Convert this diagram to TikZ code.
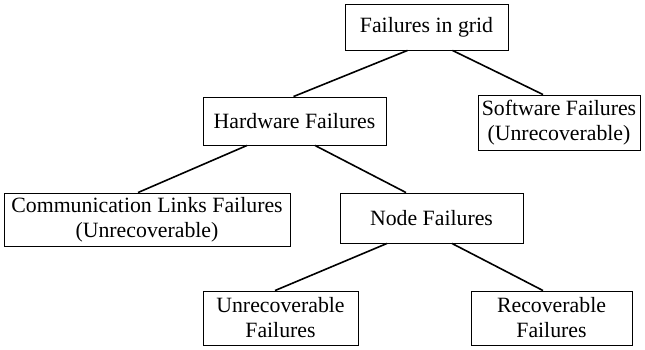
\documentclass[tikz,border=0pt]{standalone}
\usepackage{fontspec}
\setmainfont{Liberation Serif}
\usepackage{tikz}

\begin{document}
\begin{tikzpicture}[x=1pt, y=-1pt, line width=1.6pt,
    box/.style={draw, line width=0.9pt, align=center, inner sep=0pt,
        font=\fontsize{21.8}{25}\selectfont}]
    \useasboundingbox (0, 0) rectangle (645, 349);
    % boxes
    \node[box, minimum width=163pt, minimum height=46pt] (grid) at (426.5, 27) {Failures in grid};
    \node[box, minimum width=183pt, minimum height=48pt] (hw) at (294.5, 121) {Hardware Failures};
    \node[box, minimum width=162pt, minimum height=55pt] (sw) at (559, 122.5) {Software Failures\\(Unrecoverable)};
    \node[box, minimum width=286pt, minimum height=53pt] (comm) at (147, 219.5) {Communication Links Failures\\(Unrecoverable)};
    \node[box, minimum width=183pt, minimum height=50pt] (nodef) at (431.5, 218) {Node Failures};
    \node[box, minimum width=155pt, minimum height=54pt] (unrec) at (280.5, 318) {Unrecoverable\\Failures};
    \node[box, minimum width=161pt, minimum height=54pt] (rec) at (551.5, 318) {Recoverable\\Failures};
    % tree lines
    \draw ([xshift=-19pt]grid.south) -- ([xshift=-1pt]hw.north);
    \draw ([xshift=26pt]grid.south) -- ([xshift=-16pt]sw.north);
    \draw ([xshift=-47.5pt]hw.south) -- ([xshift=-9pt]comm.north);
    \draw ([xshift=20.5pt]hw.south) -- ([xshift=-25.5pt]nodef.north);
    \draw ([xshift=-44.5pt]nodef.south) -- ([xshift=-5.5pt]unrec.north);
    \draw ([xshift=20.5pt]nodef.south) -- ([xshift=-8.5pt]rec.north);
\end{tikzpicture}
\end{document}
